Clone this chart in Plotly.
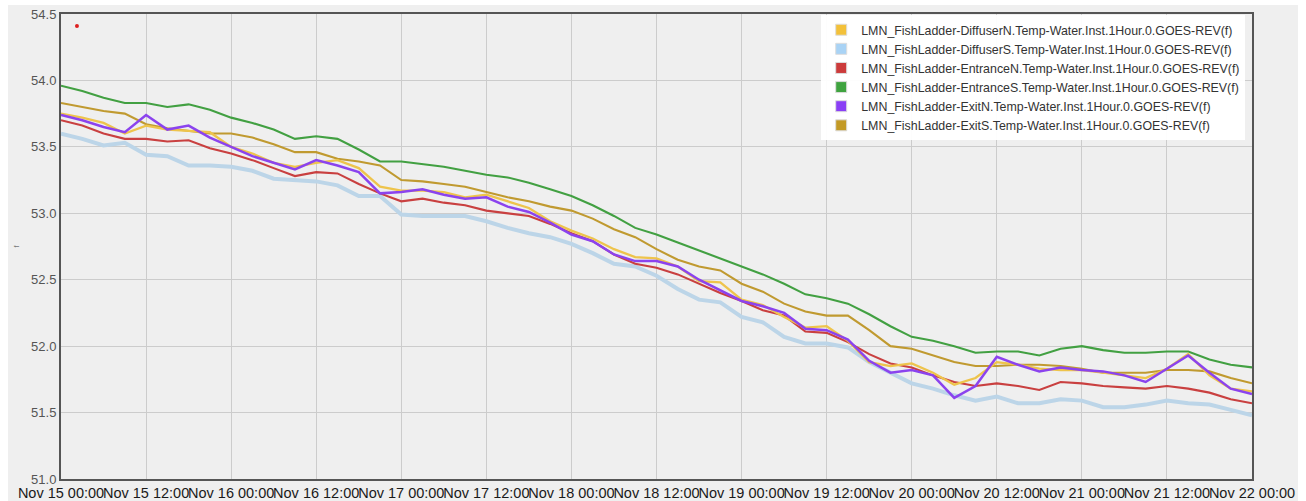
import pandas as pd
import plotly.graph_objects as go

# ---- data (3-hour samples) ----
times = pd.date_range("2023-11-15 00:00", "2023-11-22 00:00", freq="3h")

diffuser_n = [53.75, 53.72, 53.68, 53.60, 53.66, 53.63, 53.62, 53.61, 53.50, 53.45,
              53.38, 53.35, 53.38, 53.40, 53.34, 53.20, 53.17, 53.17, 53.16, 53.12,
              53.14, 53.09, 53.04, 52.94, 52.87, 52.81, 52.73, 52.67, 52.66, 52.60,
              52.49, 52.48, 52.35, 52.31, 52.22, 52.14, 52.15, 52.04, 51.88, 51.85,
              51.87, 51.80, 51.71, 51.76, 51.88, 51.86, 51.83, 51.82, 51.82, 51.80,
              51.78, 51.76, 51.83, 51.94, 51.78, 51.68, 51.66]

diffuser_s = [53.60, 53.56, 53.51, 53.53, 53.44, 53.43, 53.36, 53.36, 53.35, 53.32,
              53.26, 53.25, 53.24, 53.21, 53.13, 53.13, 52.99, 52.98, 52.98, 52.98,
              52.94, 52.89, 52.85, 52.82, 52.77, 52.70, 52.62, 52.60, 52.53, 52.43,
              52.35, 52.33, 52.22, 52.18, 52.07, 52.02, 52.02, 51.99, 51.88, 51.80,
              51.72, 51.68, 51.63, 51.59, 51.62, 51.57, 51.57, 51.60, 51.59, 51.54,
              51.54, 51.56, 51.59, 51.57, 51.56, 51.52, 51.48]

entrance_n = [53.70, 53.66, 53.60, 53.56, 53.56, 53.54, 53.55, 53.49, 53.45, 53.40,
              53.34, 53.28, 53.31, 53.30, 53.22, 53.15, 53.09, 53.11, 53.08, 53.06,
              53.02, 53.00, 52.98, 52.92, 52.85, 52.79, 52.69, 52.62, 52.59, 52.54,
              52.47, 52.40, 52.34, 52.27, 52.23, 52.11, 52.10, 52.03, 51.94, 51.87,
              51.84, 51.78, 51.73, 51.70, 51.72, 51.70, 51.67, 51.73, 51.72, 51.70,
              51.69, 51.68, 51.70, 51.68, 51.65, 51.60, 51.57]

entrance_s = [53.96, 53.92, 53.87, 53.83, 53.83, 53.80, 53.82, 53.78, 53.72, 53.68,
              53.63, 53.56, 53.58, 53.56, 53.48, 53.39, 53.39, 53.37, 53.35, 53.32,
              53.29, 53.27, 53.23, 53.18, 53.13, 53.06, 52.98, 52.89, 52.84, 52.78,
              52.72, 52.66, 52.60, 52.54, 52.47, 52.39, 52.36, 52.32, 52.24, 52.15,
              52.07, 52.04, 52.00, 51.95, 51.96, 51.96, 51.93, 51.98, 52.00, 51.97,
              51.95, 51.95, 51.96, 51.96, 51.90, 51.86, 51.84]

exit_n = [53.74, 53.70, 53.65, 53.61, 53.74, 53.63, 53.66, 53.57, 53.50, 53.43,
          53.38, 53.33, 53.40, 53.36, 53.31, 53.15, 53.16, 53.18, 53.14, 53.11,
          53.12, 53.05, 53.01, 52.93, 52.84, 52.79, 52.69, 52.64, 52.64, 52.60,
          52.50, 52.42, 52.34, 52.30, 52.25, 52.13, 52.12, 52.05, 51.89, 51.80,
          51.82, 51.78, 51.61, 51.70, 51.92, 51.86, 51.81, 51.84, 51.82, 51.81,
          51.78, 51.73, 51.83, 51.93, 51.80, 51.68, 51.64]

exit_s = [53.83, 53.80, 53.77, 53.75, 53.67, 53.64, 53.62, 53.60, 53.60, 53.57,
          53.52, 53.46, 53.46, 53.41, 53.39, 53.36, 53.25, 53.24, 53.22, 53.20,
          53.16, 53.12, 53.09, 53.05, 53.02, 52.96, 52.88, 52.82, 52.73, 52.65,
          52.60, 52.57, 52.47, 52.41, 52.32, 52.26, 52.23, 52.23, 52.12, 52.00,
          51.98, 51.93, 51.88, 51.85, 51.85, 51.86, 51.86, 51.85, 51.83, 51.80,
          51.80, 51.80, 51.82, 51.82, 51.81, 51.76, 51.72]

dot_time = ["2023-11-15 02:15"]
dot_value = [54.41]

names = [
    "LMN_FishLadder-DiffuserN.Temp-Water.Inst.1Hour.0.GOES-REV(f)",
    "LMN_FishLadder-DiffuserS.Temp-Water.Inst.1Hour.0.GOES-REV(f)",
    "LMN_FishLadder-EntranceN.Temp-Water.Inst.1Hour.0.GOES-REV(f)",
    "LMN_FishLadder-EntranceS.Temp-Water.Inst.1Hour.0.GOES-REV(f)",
    "LMN_FishLadder-ExitN.Temp-Water.Inst.1Hour.0.GOES-REV(f)",
    "LMN_FishLadder-ExitS.Temp-Water.Inst.1Hour.0.GOES-REV(f)",
]
series = [diffuser_n, diffuser_s, entrance_n, entrance_s, exit_n, exit_s]
line_colors = ["#eec44c", "#bcd5e8", "#c94040", "#42a042", "#8b43ee", "#c09a30"]
swatch_colors = ["#f3c13a", "#a9d3f5", "#cc3b3b", "#3fa33f", "#8a3ff5", "#c39a26"]
widths = [2.3, 4, 2.1, 2.1, 2.5, 2.1]

fig = go.Figure()

# draw order: blue first (underneath)
order = [1, 3, 5, 2, 0, 4]
for i in order:
    fig.add_trace(go.Scatter(
        x=times, y=series[i], mode="lines", name=names[i],
        line=dict(color=line_colors[i], width=widths[i]),
        legendgroup=str(i), showlegend=False, hoverinfo="skip"))

for i in range(6):
    fig.add_trace(go.Scatter(
        x=[None], y=[None], mode="markers", name=names[i], legendgroup=str(i),
        marker=dict(symbol="square", size=11, color=swatch_colors[i],
                    line=dict(color="#dddddd", width=1))))

fig.add_trace(go.Scatter(x=dot_time, y=dot_value, mode="markers",
                         marker=dict(color="#dd2020", size=4), showlegend=False,
                         hoverinfo="skip"))

fig.add_shape(type="rect", xref="paper", yref="paper",
              x0=-0.0445, x1=1.0386, y0=-0.2, y1=1.0194,
              fillcolor="#efefef", line=dict(width=0), layer="below")

fig.update_layout(
    width=1306, height=501,
    margin=dict(l=61, r=54, t=14, b=22),
    paper_bgcolor="#ffffff", plot_bgcolor="#eeeeee",
    font=dict(family="Liberation Sans, Arial, sans-serif"),
    legend=dict(x=0.6383, y=0.9975, xanchor="left", yanchor="top",
                bgcolor="rgba(255,255,255,0.95)", borderwidth=0,
                tracegroupgap=0,
                font=dict(size=12.4, color="#333333"), itemwidth=30),
    showlegend=True,
)
fig.update_xaxes(
    type="date", range=["2023-11-15 00:00", "2023-11-22 00:00"],
    tick0="2023-11-15 00:00", dtick=12 * 3600 * 1000, tickformat="%b %d %H:%M",
    tickangle=0, tickfont=dict(size=14.5, color="#1a1a1a"),
    showgrid=True, gridcolor="#cccccc", gridwidth=1,
    showline=True, linecolor="#555555", linewidth=2, mirror=True,
    ticks="", zeroline=False, automargin=False)
fig.update_yaxes(
    range=[51.0, 54.5], dtick=0.5, tick0=51.0, tickformat=".1f",
    tickfont=dict(size=13, color="#555555"),
    showgrid=True, gridcolor="#cccccc", gridwidth=1,
    showline=True, linecolor="#555555", linewidth=2, mirror=True,
    ticks="", zeroline=False, automargin=False,
    title=dict(text="f", font=dict(size=7, color="#777777"), standoff=11))

fig.write_html("out.html",
               config={"displayModeBar": False},
               post_script="document.body.style.margin='0';document.body.style.overflow='hidden';")
